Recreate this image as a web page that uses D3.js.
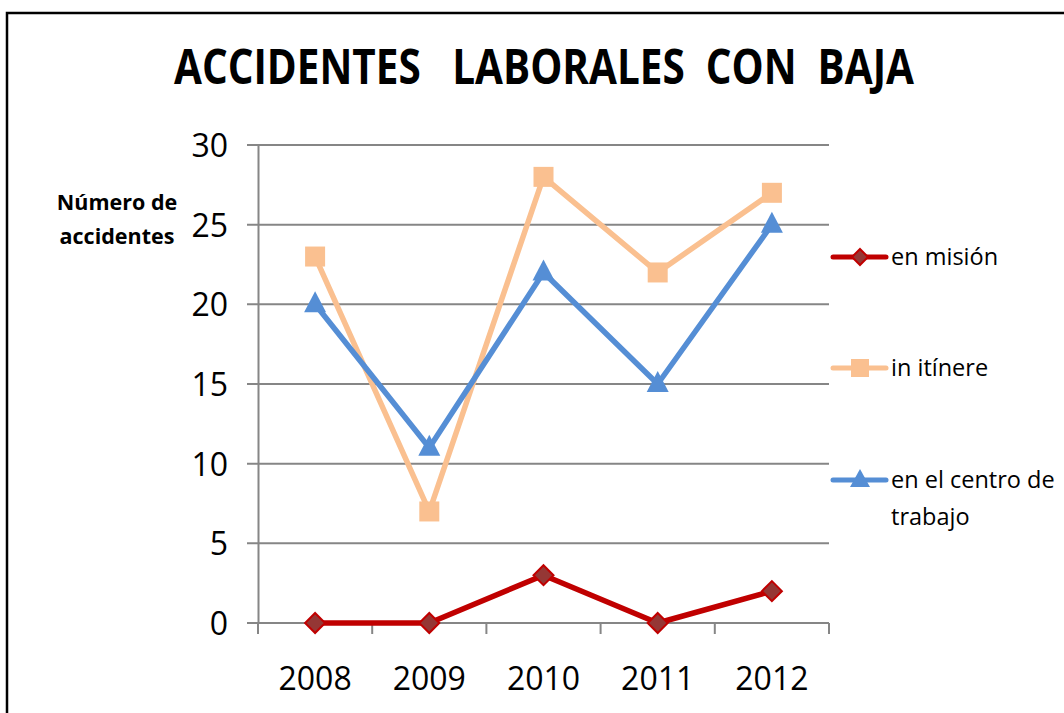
<!DOCTYPE html>
<html>
<head>
<meta charset="utf-8">
<script src="https://cdn.jsdelivr.net/npm/d3@7"></script>
<style>
  body { margin: 0; background: #fff; }
  svg { display: block; }
</style>
</head>
<body>
<svg></svg>
<script>
// datos del gráfico
const years = ["2008", "2009", "2010", "2011", "2012"];
const enMision = [0, 0, 3, 0, 2];
const inItinere = [23, 7, 28, 22, 27];
const enCentro = [20, 11, 22, 15, 25];
const yTicks = [0, 5, 10, 15, 20, 25, 30];

const series = [
  { name: ["en misión"], values: enMision, color: "#C00000", marker: "diamond", fill: "#953735" },
  { name: ["in itínere"], values: inItinere, color: "#FAC090", marker: "square", fill: "#FAC090" },
  { name: ["en el centro de", "trabajo"], values: enCentro, color: "#558ED5", marker: "triangle", fill: "#558ED5" }
];

const svg = d3.select("svg").attr("width", 1064).attr("height", 713);
const font = "'Open Sans', sans-serif";

// marco
svg.append("rect")
  .attr("x", 7).attr("y", 13)
  .attr("width", 1100).attr("height", 800)
  .attr("fill", "none").attr("stroke", "#000").attr("stroke-width", 2.5);

// título
svg.append("text")
  .attr("x", 544).attr("y", 84)
  .attr("text-anchor", "middle")
  .attr("textLength", 740).attr("lengthAdjust", "spacingAndGlyphs")
  .style("font-family", font).style("font-weight", 700).style("font-size", "48px")
  .style("white-space", "pre")
  .text("ACCIDENTES   LABORALES  CON  BAJA");

const x = d3.scaleBand().domain(years).range([258, 829]);
const y = d3.scaleLinear().domain([0, 30]).range([623, 145]);

// rejilla horizontal
svg.append("g").selectAll("line").data(yTicks).enter().append("line")
  .attr("x1", 247).attr("x2", 829)
  .attr("y1", d => y(d)).attr("y2", d => y(d))
  .attr("stroke", "#868686").attr("stroke-width", 2);

// eje y
const yAxis = svg.append("g").attr("transform", "translate(258,0)")
  .call(d3.axisLeft(y).tickValues(yTicks).tickSize(0).tickPadding(30));
yAxis.select(".domain").attr("stroke", "#868686").attr("stroke-width", 2);
yAxis.selectAll("text").style("font-family", font).style("font-size", "32px").attr("fill", "#000").attr("dy", "0.36em");

// eje x
const xAxis = svg.append("g").attr("transform", "translate(0,623)")
  .call(d3.axisBottom(x).tickSize(0).tickPadding(44));
xAxis.select(".domain").remove();
xAxis.selectAll("text").style("font-family", font).style("font-size", "32px").attr("fill", "#000");
const bounds = years.map(d => x(d)).concat([x.range()[1]]);
svg.append("g").selectAll("line").data(bounds).enter().append("line")
  .attr("x1", d => d).attr("x2", d => d)
  .attr("y1", 623).attr("y2", 634)
  .attr("stroke", "#868686").attr("stroke-width", 2);

// título del eje y
svg.append("text")
  .attr("text-anchor", "middle")
  .style("font-family", font).style("font-weight", 700).style("font-size", "21.5px")
  .selectAll("tspan").data(["Número de", "accidentes"]).enter().append("tspan")
  .attr("x", 117).attr("y", (d, i) => 210 + i * 34)
  .text(d => d);

const cx = i => x(years[i]) + x.bandwidth() / 2;

function marker(g, type, fill, stroke) {
  if (type === "diamond") {
    g.append("path").attr("d", "M0,-10L10,0L0,10L-10,0Z")
      .attr("fill", fill).attr("stroke", stroke).attr("stroke-width", 2);
  } else if (type === "square") {
    g.append("rect").attr("x", -10).attr("y", -10).attr("width", 20).attr("height", 20)
      .attr("fill", fill);
  } else {
    g.append("path").attr("d", "M0,-13L11,8L-11,8Z").attr("fill", fill);
  }
}

const line = d3.line().x((d, i) => cx(i)).y(d => y(d));

series.forEach(s => {
  svg.append("path").datum(s.values)
    .attr("d", line)
    .attr("fill", "none").attr("stroke", s.color).attr("stroke-width", 5.5)
    .attr("stroke-linejoin", "round");
  s.values.forEach((v, i) => {
    const g = svg.append("g").attr("transform", `translate(${cx(i)},${y(v)})`);
    marker(g, s.marker, s.fill, s.color);
  });
});

// leyenda
const legendY = [257, 368, 480];
series.forEach((s, k) => {
  const g = svg.append("g").attr("transform", `translate(0,${legendY[k]})`);
  g.append("line").attr("x1", 833).attr("x2", 886).attr("y1", 0).attr("y2", 0)
    .attr("stroke", s.color).attr("stroke-width", 5).attr("stroke-linecap", "round");
  const m = g.append("g").attr("transform", "translate(860,0)");
  if (s.marker === "diamond") {
    m.append("path").attr("d", "M0,-8L8,0L0,8L-8,0Z").attr("fill", s.fill).attr("stroke", s.color).attr("stroke-width", 2);
  } else if (s.marker === "square") {
    m.append("rect").attr("x", -9).attr("y", -9).attr("width", 18).attr("height", 18).attr("fill", s.fill);
  } else {
    m.append("path").attr("d", "M0,-11L10,7L-10,7Z").attr("fill", s.fill);
  }
  g.append("text")
    .style("font-family", font).style("font-size", "23.5px").attr("fill", "#000")
    .selectAll("tspan").data(s.name).enter().append("tspan")
    .attr("x", 891).attr("y", (d, i) => 8 + i * 37)
    .text(d => d);
});
</script>
</body>
</html>
